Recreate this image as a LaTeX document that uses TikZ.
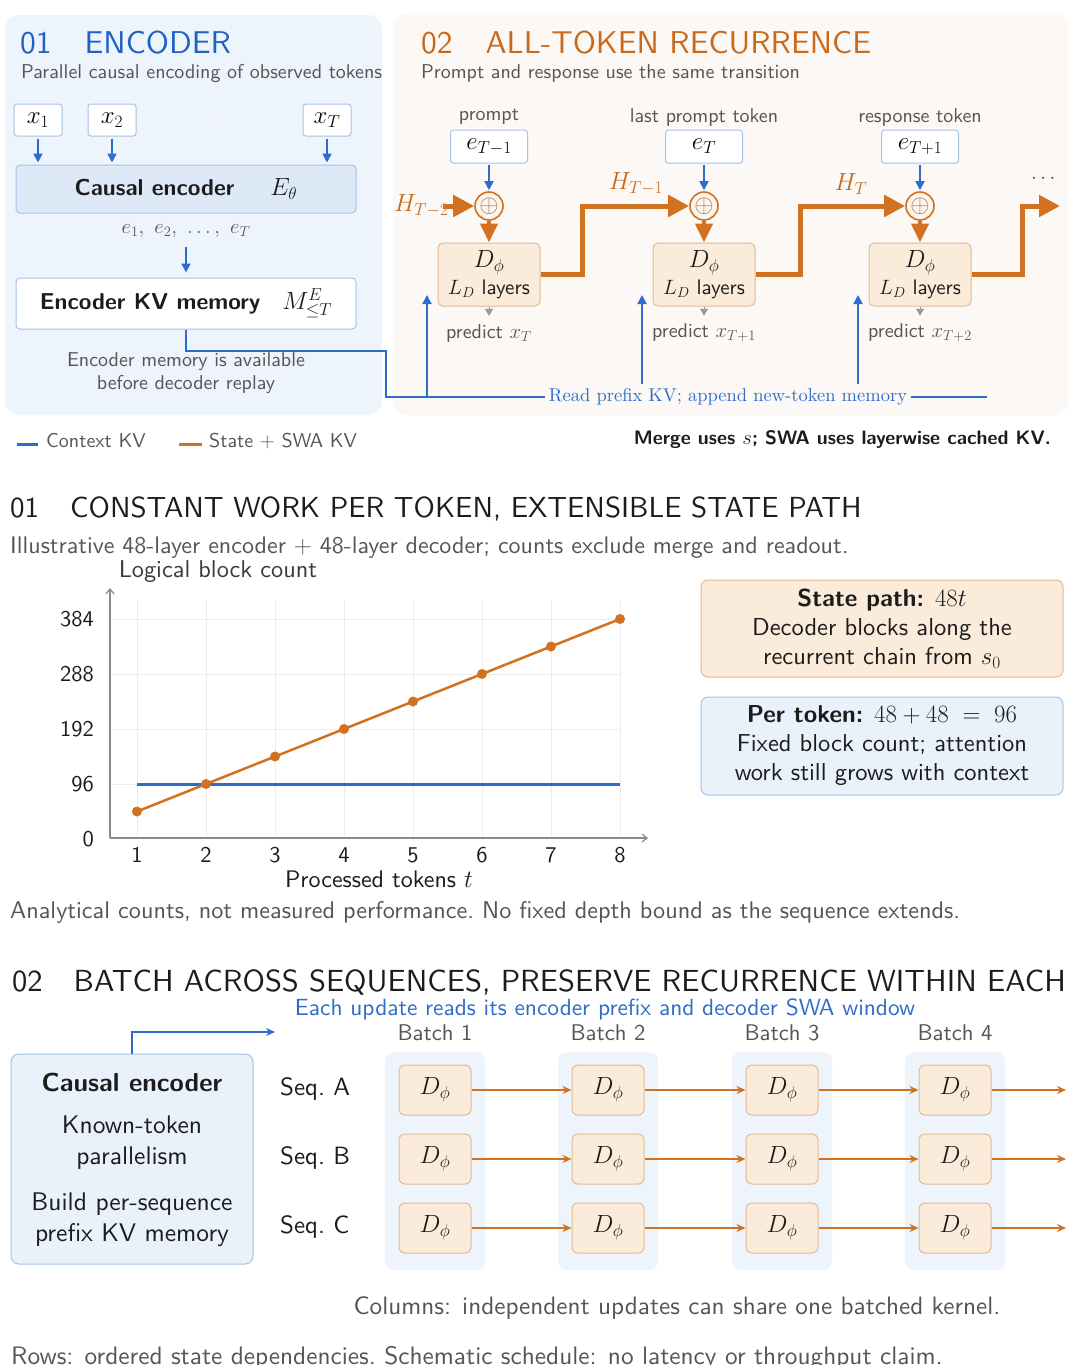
\documentclass[tikz,border=0pt]{standalone}
\usepackage{amsmath,amssymb}
\usetikzlibrary{arrows.meta,calc}
\DeclareFontFamily{TU}{lmssten}{}
\DeclareFontShape{TU}{lmssten}{m}{n}{<-> "[lmsans10-regular]:mapping=tex-text;"}{}
\DeclareFontShape{TU}{lmssten}{bx}{n}{<-> "[lmsans10-bold]:mapping=tex-text;"}{}
\DeclareFontShape{TU}{lmssten}{b}{n}{<-> ssub * lmssten/bx/n}{}
\renewcommand{\sfdefault}{lmssten}
\DeclareFontFamily{TU}{lmrten}{}
\DeclareFontShape{TU}{lmrten}{m}{n}{<-> "[lmroman10-regular]:mapping=tex-text;"}{}
\newcommand{\rmten}{\fontfamily{lmrten}\selectfont}
\definecolor{cblue}{HTML}{2D6CCB}
\definecolor{tblue}{HTML}{1F62C4}
\definecolor{corange}{HTML}{D2711F}
\definecolor{torange}{HTML}{C9691C}
\definecolor{peach}{HTML}{FAEBDA}
\definecolor{peachb}{HTML}{E2BB92}
\definecolor{lblue}{HTML}{EDF4FC}
\definecolor{mblue}{HTML}{DEE9F8}
\definecolor{bblue}{HTML}{A7C3E6}
\definecolor{colbg}{HTML}{EEF4FC}
\definecolor{encbg}{HTML}{E9F1FB}
\definecolor{panelo}{HTML}{FBF8F5}
\definecolor{gtext}{HTML}{555555}
\definecolor{dtext}{HTML}{1C1C1C}
\definecolor{gridc}{HTML}{ECECEC}
\definecolor{axisc}{HTML}{8A8A8A}
\newcommand{\fsz}[2]{\fontsize{#1}{#2}\selectfont}
\tikzset{
  lbl/.style={font=\sffamily\fsz{20}{24}, text=gtext, inner sep=1pt},
  inbox/.style={draw=bblue, fill=white, line width=1pt, rounded corners=3pt, minimum width=48pt, minimum height=32pt, inner sep=0pt, font=\fsz{25}{28}},
  ebox/.style={draw=bblue, fill=white, line width=1pt, rounded corners=3pt, minimum width=77pt, minimum height=33pt, inner sep=0pt, font=\fsz{26}{28}},
  encbox/.style={draw=bblue, fill=mblue, line width=1pt, rounded corners=4pt, minimum width=340pt, minimum height=48pt, font=\sffamily\fsz{23}{27}, text=dtext},
  kvbox/.style={draw=bblue, fill=white, line width=1pt, rounded corners=4pt, minimum width=340pt, minimum height=51pt, font=\sffamily\fsz{23}{27}, text=dtext},
  barrow/.style={draw=cblue, line width=1.8pt, -{Triangle[length=9pt,width=9pt]}},
  bline/.style={draw=cblue, line width=1.5pt},
  oplusn/.style={circle, draw=corange, line width=1.6pt, fill=peach!45!white, minimum size=28pt, inner sep=0pt, font=\fsz{24}{26}, text=corange!55!gray},
  dbox/.style={draw=peachb, fill=peach, line width=1pt, rounded corners=5pt, minimum width=102pt, minimum height=63pt, inner sep=0pt, align=center, text=dtext, font=\sffamily\fsz{21}{27}},
  opath/.style={draw=corange, line width=5pt, -{Triangle[length=21pt,width=21pt]}},
  odown/.style={draw=corange, line width=4pt, -{Triangle[length=19pt,width=17pt]}},
  garrow/.style={draw=gray!80, line width=1pt, -{Triangle[length=7pt,width=8pt]}, shorten >=7pt},
  hlab/.style={text=torange, font=\fsz{26}{28}, inner sep=0pt},
  sdbox/.style={draw=peachb, fill=peach, line width=1pt, rounded corners=6pt, minimum width=72pt, minimum height=50pt, inner sep=0pt, font=\fsz{25}{28}, text=dtext},
  sarrow/.style={draw=corange, line width=1.8pt, -{Stealth[length=9pt,width=8pt]}},
  seqlab/.style={anchor=west, font=\sffamily\fsz{25}{28}, text=dtext, inner sep=0pt},
  caption/.style={anchor=base west, font=\sffamily\fsz{24}{28}, text=gtext, inner sep=0pt},
  sechead/.style={anchor=base west, text=dtext, inner sep=0pt},
  tick/.style={font=\sffamily\fsz{22.5}{26}, text=dtext, inner sep=0pt}
}
\begin{document}
\begin{tikzpicture}[x=1pt,y=-1pt]
\useasboundingbox (0,0) rectangle (1080,1365);
\fill[white] (0,0) rectangle (1080,1365);
% ---------- panels
\fill[lblue, rounded corners=14pt] (5,15) rectangle (382,415);
\fill[panelo, rounded corners=14pt] (393,13) rectangle (1068,415);

% ---------- panel 1: encoder
\node[anchor=base west, inner sep=0pt, text=tblue, font=\sffamily\fsz{31.5}{36}] (t1) at (20,53) {01\hspace{33pt}ENCODER};
\node[anchor=base west, inner sep=0pt, text=gtext, font=\sffamily\fsz{20}{24}] (s1) at (21,78) {Parallel causal encoding of observed tokens};
\node[inbox] (x1) at (38,120) {$x_1$};
\node[inbox] (x2) at (112,120) {$x_2$};
\node[text=white, font=\fsz{20}{24}] (xd) at (210,118) {$\cdots$};
\node[inbox] (xT) at (327,120) {$x_T$};
\node[encbox] (enc) at (186,189) {\textbf{Causal encoder}\hspace{36pt}$E_\theta$};
\draw[barrow, shorten >=2pt, shorten <=2pt] (x1.south) -- (x1.south |- enc.north);
\draw[barrow, shorten >=2pt, shorten <=2pt] (x2.south) -- (x2.south |- enc.north);
\draw[barrow, shorten >=2pt, shorten <=2pt] (xT.south) -- (xT.south |- enc.north);
\node[text=gtext, font=\fsz{22}{24}] (el) at (186,231) {$e_1,\ e_2,\ \ldots,\ e_T$};
\node[kvbox] (kv) at (186,303.5) {\textbf{Encoder KV memory}\hspace{22pt}$M^{E}_{\le T}$};
\draw[barrow, shorten <=6pt, shorten >=5pt] (el.south) -- (kv.north);
\node[align=center, text=gtext, font=\sffamily\fsz{20}{22.5}] (note) at (186,373) {Encoder memory is available\\before decoder replay};

% ---------- panel 2: recurrence
\node[anchor=base west, inner sep=0pt, text=torange, font=\sffamily\fsz{31.5}{36}] (t2) at (421,53) {02\hspace{33pt}ALL-TOKEN RECURRENCE};
\node[anchor=base west, inner sep=0pt, text=gtext, font=\sffamily\fsz{20}{24}] (s2) at (421,78) {Prompt and response use the same transition};

\node[lbl] (l1) at (489,117) {prompt};
\node[lbl] (l2) at (704,117) {last prompt token};
\node[lbl] (l3) at (920,117) {response token};
\node[ebox] (e1) at (489,146.5) {$e_{T-1}$};
\node[ebox] (e2) at (704,146.5) {$e_{T}$};
\node[ebox] (e3) at (920,146.5) {$e_{T+1}$};
\node[oplusn] (c1) at (489,206) {$\oplus$};
\node[oplusn] (c2) at (704,206) {$\oplus$};
\node[oplusn] (c3) at (920,206) {$\oplus$};
\node[dbox] (d1) at (489,274.5) {\fsz{26}{27}$D_\phi$\\\fsz{21}{27}$L_D$ layers};
\node[dbox] (d2) at (704,274.5) {\fsz{26}{27}$D_\phi$\\\fsz{21}{27}$L_D$ layers};
\node[dbox] (d3) at (920,274.5) {\fsz{26}{27}$D_\phi$\\\fsz{21}{27}$L_D$ layers};
\node[lbl] (p1) at (489,333) {predict $x_T$};
\node[lbl] (p2) at (704,333) {predict $x_{T+1}$};
\node[lbl] (p3) at (920,333) {predict $x_{T+2}$};
\foreach \i in {1,2,3} {
  \draw[barrow, shorten <=1pt, shorten >=1pt] (e\i.south) -- (c\i.north);
  \draw[odown] (c\i.south) -- (d\i.north);
  \draw[garrow] (d\i.south) -- (p\i.north);
}
\node[hlab, anchor=west] (h0) at (394,206) {$H_{T-2}$};
\node[hlab] (h1) at (636,184) {$H_{T-1}$};
\node[hlab] (h2) at (851,184) {$H_{T}$};
\node[text=gtext, font=\fsz{20}{24}] (dots) at (1045,179) {$\cdots$};
\coordinate (hin) at (443,206);
\coordinate (hout) at (1060,206);
\draw[opath] (hin) -- (c1.west);
\draw[opath] (d1.east) -- ++(42,0) |- (c2.west);
\draw[opath] (d2.east) -- ++(45,0) |- (c3.west);
\draw[opath] (d3.east) -- ++(51,0) |- (hout);

% ---------- KV memory connector
\node[text=cblue, font=\rmten\fsz{18.5}{22}, inner sep=4pt] (rl) at (728,397) {Read prefix KV; append new-token memory};
\coordinate (k1) at (427,295);
\coordinate (k2) at (642,295);
\coordinate (k3) at (858,295);
\coordinate (rend) at (987,397);
\draw[bline] (kv.south) -- (186,351) -- (386,351) -- (386,397) -- (rl.west);
\draw[bline] (rl.east) -- (rend);
\draw[barrow] (k1 |- rl.west) -- (k1);
\draw[barrow] (k2 |- rl.north) -- (k2);
\draw[barrow] (k3 |- rl.north) -- (k3);

% ---------- legend
\draw[cblue, line width=3pt] (17,444) -- (38,444);
\node[anchor=west, inner sep=0pt, text=gtext, font=\sffamily\fsz{20}{24}] (lg1) at (46,441) {Context KV};
\draw[corange, line width=3pt] (179,444) -- (202,444);
\node[anchor=west, inner sep=0pt, text=gtext, font=\sffamily\fsz{20}{24}] (lg2) at (209,441) {State $+$ SWA KV};
\node[anchor=east, inner sep=0pt, text=dtext, font=\sffamily\bfseries\fsz{19.5}{23}] (lg3) at (1051,440) {Merge uses $s$; SWA uses layerwise cached KV.};

% ---------- section 01
\node[sechead, font=\sffamily\fsz{29}{34}] (h01) at (10,517) {01\hspace{31pt}CONSTANT WORK PER TOKEN, EXTENSIBLE STATE PATH};
\node[caption] (c01) at (10,553) {Illustrative 48-layer encoder $+$ 48-layer decoder; counts exclude merge and readout.};
\node[font=\sffamily\fsz{24.3}{28}, text=gtext!70!black, inner sep=0pt] (ylab) at (218,572) {Logical block count};

\foreach \t in {1,...,8} \draw[gridc, line width=0.8pt] ({137+69*(\t-1)},600) -- ({137+69*(\t-1)},838);
\foreach \yy in {619,674,729,784} \draw[gridc, line width=0.8pt] (110,\yy) -- (620,\yy);
\draw[axisc, line width=1.2pt, -{Straight Barb[length=5pt,width=8pt]}] (110,838) -- (110,588);
\draw[axisc, line width=1.2pt, -{Straight Barb[length=5pt,width=8pt]}] (110,838) -- (648,838);
\foreach \v/\yy in {384/619,288/674,192/729,96/784,0/839} \node[tick, anchor=east] at (94,\yy) {\v};
\foreach \t in {1,...,8} \node[tick] at ({137+69*(\t-1)},855) {\t};
\node[font=\sffamily\fsz{24}{28}, text=dtext, inner sep=0pt] (xlab) at (379,879) {Processed tokens $t$};
\draw[cblue, line width=3pt] (137,784) -- (620,784);
\draw[corange, line width=2.5pt] (137,811.5) -- (620,619);
\foreach \t in {1,...,8} \fill[corange] ({137+69*(\t-1)},{839-27.5*\t}) circle (5pt);
\node[caption, font=\sffamily\fsz{24.2}{28}] (c02) at (10,918) {Analytical counts, not measured performance.\ No fixed depth bound as the sequence extends.};

\node[draw=peachb, fill=peach, line width=1pt, rounded corners=7pt, minimum width=362pt, minimum height=97pt, align=center, font=\sffamily\fsz{24.5}{29}, text=dtext, inner sep=0pt] (sp) at (882,628.5) {\textbf{State path:} $48t$\\Decoder blocks along the\\recurrent chain from $s_0$};
\node[draw=bblue, fill=encbg, line width=1pt, rounded corners=7pt, minimum width=362pt, minimum height=98pt, align=center, font=\sffamily\fsz{24.5}{29}, text=dtext, inner sep=0pt] (pt) at (882,746) {\textbf{Per token:} $48+48 \;=\; 96$\\Fixed block count; attention\\work still grows with context};

% ---------- section 02
\node[sechead, font=\sffamily\fsz{30.5}{34}] (h02) at (12,991) {02\hspace{31pt}BATCH ACROSS SEQUENCES, PRESERVE RECURRENCE WITHIN EACH};
\node[anchor=base, font=\sffamily\fsz{23.4}{28}, text=cblue, inner sep=0pt] (sub02) at (605,1015) {Each update reads its encoder prefix and decoder SWA window};

\foreach \i/\cx in {1/435,2/608,3/782,4/955} {
  \fill[colbg, rounded corners=9pt] (\cx-50,1052) rectangle (\cx+50,1270);
  \node[font=\sffamily\fsz{22.7}{26}, text=gtext, inner sep=0pt] (bt\i) at (\cx,1033) {Batch \i};
  \node[sdbox] (a\i) at (\cx,1090) {$D_\phi$};
  \node[sdbox] (b\i) at (\cx,1159) {$D_\phi$};
  \node[sdbox] (q\i) at (\cx,1228) {$D_\phi$};
}
\foreach \i/\j in {1/2,2/3,3/4} {
  \draw[sarrow] (a\i) -- (a\j);
  \draw[sarrow] (b\i) -- (b\j);
  \draw[sarrow] (q\i) -- (q\j);
}
\coordinate (ae) at (1066,1090);
\coordinate (be) at (1066,1159);
\coordinate (qe) at (1066,1228);
\draw[sarrow] (a4) -- (ae);
\draw[sarrow] (b4) -- (be);
\draw[sarrow] (q4) -- (qe);
\node[seqlab] (sa) at (280,1089) {Seq.\ A};
\node[seqlab] (sb) at (280,1158) {Seq.\ B};
\node[seqlab] (sc) at (280,1227) {Seq.\ C};

\node[draw=bblue, fill=encbg, line width=1pt, rounded corners=8pt, minimum width=242pt, minimum height=210pt] (ce) at (132,1159) {};
\node[font=\sffamily\bfseries\fsz{26}{28}, text=dtext, inner sep=0pt] (ce1) at (132,1082) {Causal encoder};
\node[font=\sffamily\fsz{25.5}{31}, text=dtext, align=center, inner sep=0pt] (ce2) at (132,1142.5) {Known-token\\parallelism};
\node[font=\sffamily\fsz{25.5}{31}, text=dtext, align=center, inner sep=0pt] (ce3) at (132,1219.5) {Build per-sequence\\prefix KV memory};
\coordinate (cend) at (275,1032);
\draw[bline, -{Stealth[length=9pt,width=8pt]}] (ce.north) |- (cend);

\node[anchor=base, font=\sffamily\fsz{25.2}{28}, text=gtext, inner sep=0pt] (cols) at (677,1314) {Columns: independent updates can share one batched kernel.};
\node[caption, font=\sffamily\fsz{25.3}{28}] (rows) at (11,1364) {Rows: ordered state dependencies.\ Schematic schedule: no latency or throughput claim.};
\end{tikzpicture}
\end{document}
